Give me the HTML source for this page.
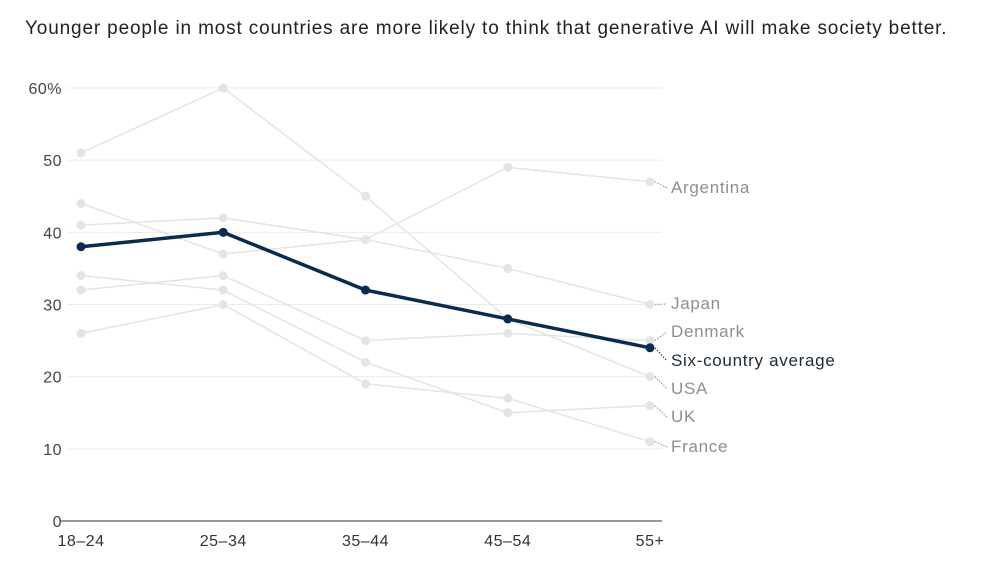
<!DOCTYPE html>
<html><head><meta charset="utf-8"><style>
body{margin:0;background:#fff;font-family:"Liberation Sans",sans-serif}
svg text{font-family:"Liberation Sans",sans-serif}
</style></head><body>
<svg width="989" height="567">
<text x="25" y="34" font-size="19" letter-spacing="0.85" fill="#222">Younger people in most countries are more likely to think that generative AI will make society better.</text>
<g id="grid"></g><g id="lines"></g><g id="labels"></g>
</svg>
<script>
const categories=["18–24","25–34","35–44","45–54","55+"];
const yTicks=[0,10,20,30,40,50,60];
const names=["Argentina","Japan","Denmark","USA","UK","France"];
const argentina=[44,37,39,49,47];
const japan=[41,42,39,35,30];
const denmark=[32,34,25,26,25];
const usa=[51,60,45,28,20];
const uk=[34,32,22,15,16];
const france=[26,30,19,17,11];
const average=[38,40,32,28,24];
const labelY=[188,304,332,389,417,447];
const NS="http://www.w3.org/2000/svg";
const x=i=>81+i*142.25;
const y=v=>521-v*7.217;
function mk(tag,attrs,parent){const e=document.createElementNS(NS,tag);for(const k in attrs)e.setAttribute(k,attrs[k]);parent.appendChild(e);return e;}
const grid=document.getElementById('grid'),lines=document.getElementById('lines'),labels=document.getElementById('labels');
yTicks.forEach(t=>{
 const l=mk('line',{x1:t===0?60:68,x2:662,y1:y(t),y2:y(t),stroke:t===0?'#333':'#ebebeb','stroke-width':1},grid);
 
 
 const tx=mk('text',{x:62,y:y(t)+6,'font-size':16,'letter-spacing':0.5,fill:'#444','text-anchor':'end'},grid);
 tx.textContent=t===60?'60%':t;
 
 
});
categories.forEach((c,i)=>{
 const tx=mk('text',{x:x(i),y:546,'font-size':16,'letter-spacing':0.5,fill:'#333','text-anchor':'middle'},grid);
 tx.textContent=c;
 
 
});
function series(vals,color,w,r,name){
 const g=mk('g',{},lines);
 
 
 mk('polyline',{points:vals.map((v,i)=>x(i)+','+y(v)).join(' '),fill:'none',stroke:color,'stroke-width':w},g);
 vals.forEach((v,i)=>{const c=mk('circle',{cx:x(i),cy:y(v),r:r,fill:color},g);
  
  });
}
const all=[argentina,japan,denmark,usa,uk,france];
all.forEach((s,k)=>series(s,'#e2e4e6',1.5,4.5,names[k].toLowerCase()));
series(average,'#0b2a4f',3.5,4.5,'average');
function label(txt,ly,vy,color){
 mk('line',{x1:x(4)+5,y1:vy,x2:667,y2:ly-5,stroke:color,'stroke-width':1,'stroke-dasharray':'1.5,1.5'},labels);
 const t=mk('text',{x:671,y:ly,'font-size':17,'letter-spacing':0.7,fill:color},labels);
 t.textContent=txt;
 
 
}
all.forEach((s,k)=>label(names[k],labelY[k]+5,y(s[4]),'#8a8f94'));
label('Six-country average',366,y(average[4]),'#1e2a38');
</script>
</body></html>
